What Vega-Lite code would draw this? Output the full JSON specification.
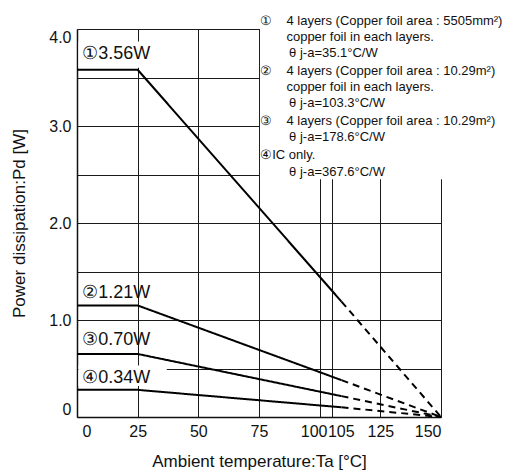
{
  "$schema": "https://vega.github.io/schema/vega-lite/v6.json",
  "width": 364,
  "height": 388,
  "autosize": {"type": "none"},
  "padding": {"left": 77, "top": 29, "right": 68, "bottom": 58},
  "background": "white",
  "config": {
    "view": {"stroke": null},
    "font": "Liberation Sans",
    "axis": {"labelFont": "Liberation Sans", "titleFont": "Liberation Sans", "labelColor": "#111", "titleColor": "#111", "titleFontWeight": "normal"}
  },
  "datasets": {
    "lines": [
      {"s": "1", "part": "solid", "k": "1s", "x": 0, "y": 3.58},
      {"s": "1", "part": "solid", "k": "1s", "x": 25, "y": 3.58},
      {"s": "1", "part": "solid", "k": "1s", "x": 109, "y": 1.19},
      {"s": "1", "part": "dash", "k": "1d", "x": 109, "y": 1.19},
      {"s": "1", "part": "dash", "k": "1d", "x": 150, "y": 0},
      {"s": "2", "part": "solid", "k": "2s", "x": 0, "y": 1.15},
      {"s": "2", "part": "solid", "k": "2s", "x": 25, "y": 1.15},
      {"s": "2", "part": "solid", "k": "2s", "x": 109, "y": 0.38},
      {"s": "2", "part": "dash", "k": "2d", "x": 109, "y": 0.38},
      {"s": "2", "part": "dash", "k": "2d", "x": 150, "y": 0},
      {"s": "3", "part": "solid", "k": "3s", "x": 0, "y": 0.65},
      {"s": "3", "part": "solid", "k": "3s", "x": 25, "y": 0.65},
      {"s": "3", "part": "solid", "k": "3s", "x": 109, "y": 0.215},
      {"s": "3", "part": "dash", "k": "3d", "x": 109, "y": 0.215},
      {"s": "3", "part": "dash", "k": "3d", "x": 150, "y": 0},
      {"s": "4", "part": "solid", "k": "4s", "x": 0, "y": 0.28},
      {"s": "4", "part": "solid", "k": "4s", "x": 25, "y": 0.28},
      {"s": "4", "part": "solid", "k": "4s", "x": 109, "y": 0.1},
      {"s": "4", "part": "dash", "k": "4d", "x": 109, "y": 0.1},
      {"s": "4", "part": "dash", "k": "4d", "x": 150, "y": 0}
    ],
    "masks": [
      {"x": 75.4, "x2": 200, "y": 2.45, "y2": 4.4},
      {"x": 0.6, "x2": 37, "y": 3.6, "y2": 3.87},
      {"x": 0.6, "x2": 37, "y": 0.32, "y2": 0.53}
    ],
    "labels": [
      {"x": 2.2, "y": 3.74, "t": "①3.56W"},
      {"x": 2.2, "y": 1.277, "t": "②1.21W"},
      {"x": 2.2, "y": 0.795, "t": "③0.70W"},
      {"x": 2.2, "y": 0.406, "t": "④0.34W"}
    ],
    "notes": [
      {"x": 75.5, "y": 4.085, "t": "①"},
      {"x": 86.3, "y": 4.085, "t": "4 layers (Copper foil area : 5505mm²)"},
      {"x": 86.3, "y": 3.92, "t": "copper foil in each layers."},
      {"x": 87.4, "y": 3.75, "t": "θ j-a=35.1°C/W"},
      {"x": 75.5, "y": 3.57, "t": "②"},
      {"x": 86.3, "y": 3.57, "t": "4 layers (Copper foil area : 10.29m²)"},
      {"x": 86.3, "y": 3.405, "t": "copper foil in each layers."},
      {"x": 87.4, "y": 3.234, "t": "θ j-a=103.3°C/W"},
      {"x": 75.5, "y": 3.055, "t": "③"},
      {"x": 86.3, "y": 3.055, "t": "4 layers (Copper foil area : 10.29m²)"},
      {"x": 87.4, "y": 2.884, "t": "θ j-a=178.6°C/W"},
      {"x": 75.5, "y": 2.698, "t": "④IC only."},
      {"x": 87.4, "y": 2.526, "t": "θ j-a=367.6°C/W"}
    ]
  },
  "layer": [
    {
      "data": {"name": "lines"},
      "mark": {"type": "line", "color": "black", "strokeWidth": 2},
      "encoding": {
        "x": {
          "field": "x", "type": "quantitative",
          "scale": {"domain": [0, 150], "nice": false, "zero": false},
          "axis": {
            "values": [0, 25, 50, 75, 100, 105, 125, 150],
            "title": "Ambient temperature:Ta [°C]",
            "titleFontSize": 17, "titlePadding": 14,
            "labelFontSize": 16, "labelPadding": 6, "labelOverlap": false,
            "labelOffset": {"condition": [{"test": "datum.value == 100", "value": -6}, {"test": "datum.value == 105", "value": 9}, {"test": "datum.value == 0", "value": 5}], "value": 0},
            "ticks": false,
            "grid": true, "gridColor": "#1a1a1a", "gridWidth": 1, "gridOpacity": 1,
            "domainColor": "#111", "domainWidth": 1.5
          }
        },
        "y": {
          "field": "y", "type": "quantitative",
          "scale": {"domain": [0, 4], "nice": false},
          "axis": {
            "values": [0, 0.5, 1, 1.5, 2, 2.5, 3, 3.5, 4],
            "labelExpr": "datum.value == 0 ? '0' : (datum.value % 1 == 0 ? format(datum.value, '.1f') : '')",
            "labelBaseline": {"condition": [{"test": "datum.value == 4", "value": "top"}, {"test": "datum.value == 0", "value": "bottom"}], "value": "middle"},
            "title": "Power dissipation:Pd [W]",
            "titleFontSize": 17, "titlePadding": 20,
            "labelFontSize": 16, "labelPadding": 6,
            "ticks": false,
            "grid": true, "gridColor": "#1a1a1a", "gridWidth": 1, "gridOpacity": 1,
            "domainColor": "#111", "domainWidth": 1.5
          }
        },
        "detail": {"field": "k"},
        "strokeDash": {"field": "part", "type": "nominal", "scale": {"domain": ["solid", "dash"], "range": [[1, 0], [7, 5]]}, "legend": null}
      }
    },
    {
      "data": {"name": "masks"},
      "mark": {"type": "rect", "color": "white", "opacity": 1},
      "encoding": {
        "x": {"field": "x", "type": "quantitative"},
        "x2": {"field": "x2"},
        "y": {"field": "y", "type": "quantitative"},
        "y2": {"field": "y2"}
      }
    },
    {
      "data": {"name": "labels"},
      "mark": {"type": "text", "align": "left", "baseline": "middle", "fontSize": 18, "color": "#111", "font": "Liberation Sans"},
      "encoding": {
        "x": {"field": "x", "type": "quantitative"},
        "y": {"field": "y", "type": "quantitative"},
        "text": {"field": "t"}
      }
    },
    {
      "data": {"name": "notes"},
      "mark": {"type": "text", "align": "left", "baseline": "middle", "fontSize": 13, "color": "#111", "font": "Liberation Sans"},
      "encoding": {
        "x": {"field": "x", "type": "quantitative"},
        "y": {"field": "y", "type": "quantitative"},
        "text": {"field": "t"}
      }
    }
  ]
}
